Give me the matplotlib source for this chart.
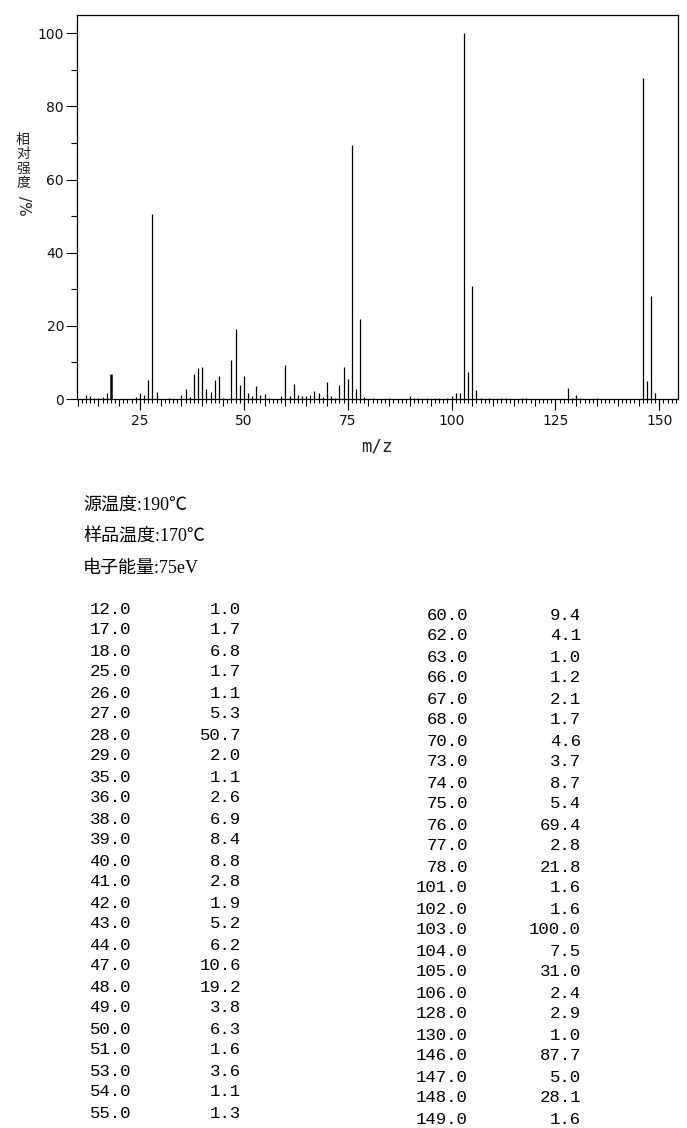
import matplotlib
matplotlib.use('Agg')
import matplotlib.pyplot as plt
from matplotlib.ticker import MultipleLocator, FuncFormatter

# spectrum: m/z and relative intensity (%)
mz = [12, 13, 14, 15, 16, 17, 18, 24, 25, 26, 27, 28, 29, 32, 35, 36, 37, 38,
      39, 40, 41, 42, 43, 44, 45, 47, 48, 49, 50, 51, 52, 53, 54, 55, 56, 59,
      60, 61, 62, 63, 64, 65, 66, 67, 68, 69, 70, 71, 72, 73, 74, 75, 76, 77,
      78, 79, 81, 85, 90, 91, 92, 94, 96, 97, 99, 100, 101, 102, 103, 104,
      105, 106, 107, 109, 112, 113, 117, 118, 128, 129, 130, 131, 135, 146,
      147, 148, 149]
intensity = [1.0, 0.8, 0.3, 0.4, 0.6, 1.7, 6.8, 0.5, 1.7, 1.1, 5.3, 50.7, 2.0,
             0.3, 1.1, 2.6, 0.6, 6.9, 8.4, 8.8, 2.8, 1.9, 5.2, 6.2, 0.3, 10.6,
             19.2, 3.8, 6.3, 1.6, 0.8, 3.6, 1.1, 1.3, 0.3, 0.8, 9.4, 0.8, 4.1,
             1.0, 0.9, 0.8, 1.2, 2.1, 1.7, 0.6, 4.6, 0.9, 0.3, 3.7, 8.7, 5.4,
             69.4, 2.8, 21.8, 0.5, 0.3, 0.3, 0.9, 0.3, 0.3, 0.3, 0.3, 0.3, 0.3,
             0.9, 1.6, 1.6, 100.0, 7.5, 31.0, 2.4, 0.4, 0.3, 0.3, 0.3, 0.3, 0.3,
             2.9, 0.4, 1.0, 0.4, 0.3, 87.7, 5.0, 28.1, 1.6]

x_major = [25, 50, 75, 100, 125, 150]
info_lines = ['源温度:190℃', '样品温度:170℃', '电子能量:75eV']

W, H = 687, 1128


def fx(px):
    return px / W


def fy(py):
    return 1 - py / H


fig = plt.figure(figsize=(W / 100, H / 100), dpi=100)
ax = fig.add_axes([fx(77), fy(399), fx(678) - fx(77), fy(15) - fy(399)])

# the m/z 18 line is drawn heavier in the original
widths = [1.8 if m == 18 else 0.9 for m in mz]
ax.vlines(mz, 0, intensity, color='black', linewidths=widths)
ax.set_xlim(9.85, 154.5)
ax.set_ylim(0, 105)

for s in ax.spines.values():
    s.set_linewidth(0.9)

ax.xaxis.set_major_locator(MultipleLocator(5))
ax.xaxis.set_minor_locator(MultipleLocator(1))
ax.xaxis.set_major_formatter(FuncFormatter(lambda v, p: '%d' % v if v in x_major else ''))
ax.yaxis.set_major_locator(MultipleLocator(20))
ax.yaxis.set_minor_locator(MultipleLocator(10))
ax.tick_params(axis='x', which='major', length=4.8, width=0.8, pad=6, labelsize=10,
               labelcolor='#111111')
ax.tick_params(axis='x', which='minor', length=3.0, width=0.8)
ax.tick_params(axis='y', which='major', length=7.8, width=0.8, pad=1.5, labelsize=10,
               labelcolor='#111111')
ax.tick_params(axis='y', which='minor', length=4.2, width=0.8)
# longer ticks at the labelled positions
ax.vlines(x_major, 0, -0.028, transform=ax.get_xaxis_transform(),
          color='black', linewidth=0.8, clip_on=False)

fig.text(fx(377), fy(447), 'm/z', family='DejaVu Sans Mono', fontsize=12.5,
         ha='center', va='center', color='#222222')

# y label: stacked characters
for i, ch in enumerate('相对强度'):
    fig.text(fx(23), fy(140 + i * 14.2), ch, family='Noto Sans CJK SC',
             fontsize=10, ha='center', va='center', color='#222222')
fig.text(fx(23), fy(206), '/%', family='DejaVu Sans', fontsize=11,
         rotation=-90, ha='center', va='center', color='#222222')

for i, line in enumerate(info_lines):
    fig.text(fx(83), fy(505 + i * 31.5), line,
             family=['Liberation Serif', 'Noto Sans CJK SC'], fontsize=13,
             ha='left', va='center')

rows = [(m, v) for m, v in zip(mz, intensity) if v >= 1.0]
half = (len(rows) + 1) // 2
cols = [(rows[:half], 609, 131, 241), (rows[half:], 615, 468, 581)]
for col_rows, y0, xm, xv in cols:
    for i, (m, v) in enumerate(col_rows):
        y = fy(y0 + i * 21.0)
        fig.text(fx(xm), y, '%.1f' % m, family='Liberation Mono', fontsize=12.5,
                 ha='right', va='center')
        fig.text(fx(xv), y, '%.1f' % v, family='Liberation Mono', fontsize=12.5,
                 ha='right', va='center')

fig.savefig('out.png', dpi=100)
